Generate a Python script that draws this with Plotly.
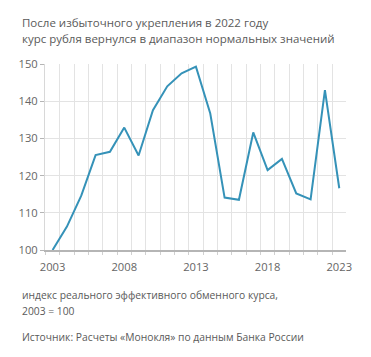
import plotly.graph_objects as go

years = list(range(2003, 2024))
values = [100, 106.3, 114.6, 125.5, 126.4, 132.9, 125.4, 137.6, 144.0, 147.5, 149.3,
          136.7, 114.1, 113.5, 131.6, 121.5, 124.5, 115.2, 113.6, 143.0, 116.6]
x_ticks = [2003, 2008, 2013, 2018, 2023]
y_ticks = [100, 110, 120, 130, 140, 150]
title_lines = ["После избыточного укрепления в 2022 году",
               "курс рубля вернулся в диапазон нормальных значений"]
note_lines = ["индекс реального эффективного обменного курса,", "2003 = 100"]
source = "Источник: Расчеты «Монокля» по данным Банка России"

FONT = "Open Sans"
TXT = "#5a5a5a"
PW, PH = 300.7, 186.0  # plot area size in px

fig = go.Figure(go.Scatter(x=years, y=values, mode="lines",
                           line=dict(color="#3592b8", width=2), hoverinfo="skip"))

fig.update_layout(
    width=363, height=349,
    margin=dict(l=37, r=363 - 37 - PW, t=56, b=349 - 56 - PH),
    paper_bgcolor="white", plot_bgcolor="white",
    showlegend=False,
    font=dict(family=FONT, size=12, color=TXT),
)
fig.update_xaxes(
    range=[2002.47, 2023.47], tickvals=x_ticks, showgrid=False,
    showline=True, linecolor="#b5b5b5", linewidth=1.5,
    ticks="", ticklabelstandoff=6, tickfont=dict(size=11.2, color="#666"),
    minor=dict(tickvals=[y + 0.5 for y in range(2002, 2024)], showgrid=True,
               gridcolor="#e3e3e3", gridwidth=1, ticks="outside", ticklen=3,
               tickcolor="#d0d0d0"),
    zeroline=False,
)
fig.update_yaxes(
    range=[100, 150], tickvals=y_ticks, showgrid=True, gridcolor="#e3e3e3",
    showline=True, linecolor="#d8d8d8", linewidth=1,
    ticks="outside", ticklen=4, tickcolor="#b5b5b5",
    tickfont=dict(size=11.2, color="#666"), zeroline=False,
)

LX = -25 / PW
for i, (t, dy) in enumerate(zip(title_lines, [41, 26])):
    fig.add_annotation(text=t, xref="paper", yref="paper", x=LX, y=1 + dy / PH,
                       xanchor="left", yanchor="middle", showarrow=False,
                       font=dict(family=FONT, size=11.5, color=TXT))
for t, dy in zip(note_lines, [45, 61]):
    fig.add_annotation(text=t, xref="paper", yref="paper", x=LX, y=-dy / PH,
                       xanchor="left", yanchor="middle", showarrow=False,
                       font=dict(family=FONT, size=10.3, color=TXT))
fig.add_annotation(text=source, xref="paper", yref="paper", x=LX, y=-87 / PH,
                   xanchor="left", yanchor="middle", showarrow=False,
                   font=dict(family=FONT, size=10.3, color=TXT))

# thin frame line at the right edge of the card
fx = (362.2 - 37) / PW
fig.add_shape(type="line", xref="paper", yref="paper",
              x0=fx, x1=fx, y0=-(349 - 56 - PH) / PH, y1=1 + 56 / PH,
              line=dict(color="#c8c8c8", width=1.5))

fig.write_html("out.html")
